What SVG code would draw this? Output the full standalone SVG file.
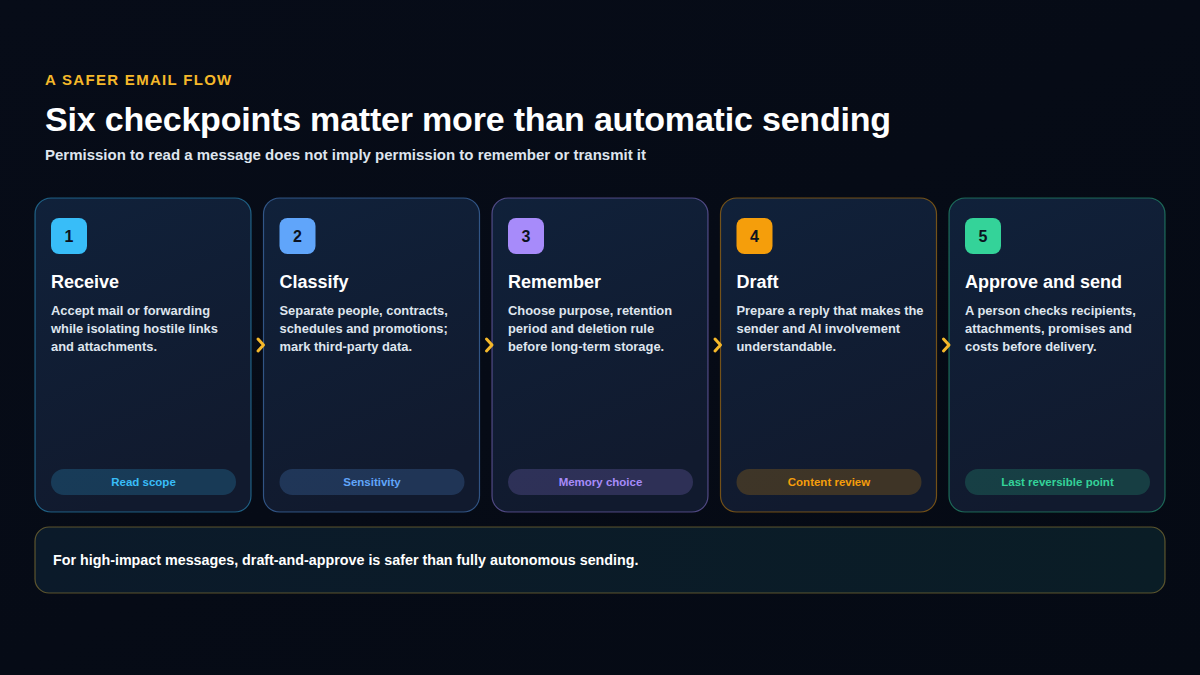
<svg xmlns="http://www.w3.org/2000/svg" width="1200" height="675" viewBox="0 0 1200 675">
<defs>
<linearGradient id="bg" x1="0" y1="0" x2="1" y2="1">
<stop offset="0" stop-color="#070c18"/><stop offset="1" stop-color="#050a14"/>
</linearGradient>
<linearGradient id="card" x1="0" y1="0" x2="0.3" y2="1">
<stop offset="0" stop-color="#10213a"/><stop offset="1" stop-color="#111a2e"/>
</linearGradient>
<linearGradient id="note" x1="0" y1="0" x2="1" y2="0">
<stop offset="0" stop-color="#0b1a2a"/><stop offset="1" stop-color="#0a1d26"/>
</linearGradient>
<style>
text{font-family:"Liberation Sans",Arial,sans-serif;font-weight:bold}
.kicker{font-size:15px;fill:#f5b82a;letter-spacing:1.3px}
.title{font-size:34px;fill:#ffffff;letter-spacing:-0.2px}
.sub{font-size:15px;fill:#dfe5ee}
.box{fill:url(#card);stroke-width:1.2}
.num{font-size:16px;fill:#0b1220;text-anchor:middle}
.h{font-size:18px;fill:#ffffff}
.body{font-size:12.9px;fill:#dfe5ee}
.pill{font-size:11.5px;text-anchor:middle}
.chev{fill:none;stroke:#f5b82a;stroke-width:3;stroke-linecap:round;stroke-linejoin:round}
.note{font-size:14.3px;fill:#ffffff}
</style>
</defs>
<rect width="1200" height="675" fill="url(#bg)"/>
<text class="kicker" x="45" y="85">A SAFER EMAIL FLOW</text>
<text class="title" x="45" y="131">Six checkpoints matter more than automatic sending</text>
<text class="sub" x="45" y="160">Permission to read a message does not imply permission to remember or transmit it</text>

<g id="step1">
<rect class="box" x="35" y="198" width="216" height="314" rx="16" stroke="#38bdf8" stroke-opacity="0.45"/>
<rect x="51" y="218" width="36" height="36" rx="8" fill="#38bdf8"/>
<text class="num" x="69" y="242">1</text>
<text class="h" x="51" y="288">Receive</text>
<text class="body" x="51" y="315">Accept mail or forwarding</text>
<text class="body" x="51" y="333">while isolating hostile links</text>
<text class="body" x="51" y="351">and attachments.</text>
<rect x="51" y="469" width="185" height="26" rx="13" fill="#38bdf8" fill-opacity="0.2"/>
<text class="pill" x="143.5" y="486" fill="#38bdf8">Read scope</text>
</g>

<g id="step2">
<rect class="box" x="263.5" y="198" width="216" height="314" rx="16" stroke="#60a5fa" stroke-opacity="0.45"/>
<rect x="279.5" y="218" width="36" height="36" rx="8" fill="#60a5fa"/>
<text class="num" x="297.5" y="242">2</text>
<text class="h" x="279.5" y="288">Classify</text>
<text class="body" x="279.5" y="315">Separate people, contracts,</text>
<text class="body" x="279.5" y="333">schedules and promotions;</text>
<text class="body" x="279.5" y="351">mark third-party data.</text>
<rect x="279.5" y="469" width="185" height="26" rx="13" fill="#60a5fa" fill-opacity="0.2"/>
<text class="pill" x="372" y="486" fill="#60a5fa">Sensitivity</text>
</g>

<g id="step3">
<rect class="box" x="492" y="198" width="216" height="314" rx="16" stroke="#a78bfa" stroke-opacity="0.45"/>
<rect x="508" y="218" width="36" height="36" rx="8" fill="#a78bfa"/>
<text class="num" x="526" y="242">3</text>
<text class="h" x="508" y="288">Remember</text>
<text class="body" x="508" y="315">Choose purpose, retention</text>
<text class="body" x="508" y="333">period and deletion rule</text>
<text class="body" x="508" y="351">before long-term storage.</text>
<rect x="508" y="469" width="185" height="26" rx="13" fill="#a78bfa" fill-opacity="0.2"/>
<text class="pill" x="600.5" y="486" fill="#a78bfa">Memory choice</text>
</g>

<g id="step4">
<rect class="box" x="720.5" y="198" width="216" height="314" rx="16" stroke="#f59e0b" stroke-opacity="0.45"/>
<rect x="736.5" y="218" width="36" height="36" rx="8" fill="#f59e0b"/>
<text class="num" x="754.5" y="242">4</text>
<text class="h" x="736.5" y="288">Draft</text>
<text class="body" x="736.5" y="315">Prepare a reply that makes the</text>
<text class="body" x="736.5" y="333">sender and AI involvement</text>
<text class="body" x="736.5" y="351">understandable.</text>
<rect x="736.5" y="469" width="185" height="26" rx="13" fill="#f59e0b" fill-opacity="0.2"/>
<text class="pill" x="829" y="486" fill="#f59e0b">Content review</text>
</g>

<g id="step5">
<rect class="box" x="949" y="198" width="216" height="314" rx="16" stroke="#34d399" stroke-opacity="0.45"/>
<rect x="965" y="218" width="36" height="36" rx="8" fill="#34d399"/>
<text class="num" x="983" y="242">5</text>
<text class="h" x="965" y="288">Approve and send</text>
<text class="body" x="965" y="315">A person checks recipients,</text>
<text class="body" x="965" y="333">attachments, promises and</text>
<text class="body" x="965" y="351">costs before delivery.</text>
<rect x="965" y="469" width="185" height="26" rx="13" fill="#34d399" fill-opacity="0.2"/>
<text class="pill" x="1057.5" y="486" fill="#34d399">Last reversible point</text>
</g>

<g id="connectors">
<polyline class="chev" points="258,339 263.5,345 258,351"/>
<polyline class="chev" points="486.5,339 492,345 486.5,351"/>
<polyline class="chev" points="715,339 720.5,345 715,351"/>
<polyline class="chev" points="943.5,339 949,345 943.5,351"/>
</g>

<g id="takeaway">
<rect x="35" y="527" width="1130" height="66" rx="14" fill="url(#note)" stroke="#a08a3a" stroke-opacity="0.55" stroke-width="1.2"/>
<text class="note" x="53" y="565">For high-impact messages, draft-and-approve is safer than fully autonomous sending.</text>
</g>
</svg>
